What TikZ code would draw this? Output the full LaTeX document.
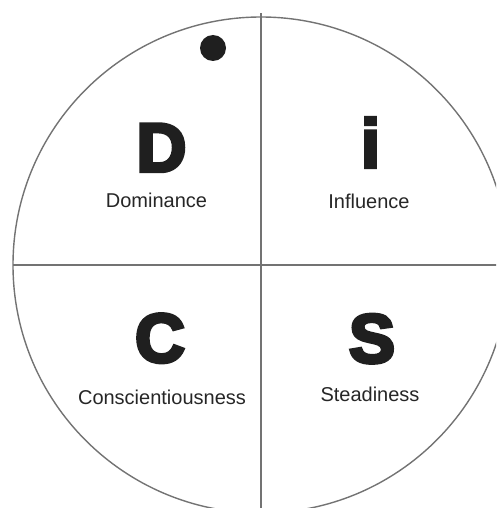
\documentclass[tikz,border=0pt]{standalone}
\usepackage{fontspec}
\setmainfont{Liberation Sans}
\newfontfamily\heavyfont{Liberation Sans Bold}[FakeBold=5]
\begin{document}
\begin{tikzpicture}[x=1pt,y=-1pt,
  rule/.style={draw=black!55, line width=1.4pt},
  bigletter/.style={font=\heavyfont\fontsize{69}{69}\selectfont, text=black!88, anchor=base, inner sep=0pt},
  label/.style={font=\fontsize{20}{20}\selectfont, text=black!85, anchor=base, inner sep=0pt}]
\useasboundingbox (0,0) rectangle (496,508);
\begin{scope}
\clip (0,0) rectangle (496,508);
\coordinate (ctr) at (261,265);
\draw[rule] (ctr) circle[radius=248];
\coordinate (top) at (261,13);
\coordinate (bot) at (261,510);
\coordinate (lft) at (13,265);
\coordinate (rgt) at (498,265);
\draw[rule] (top) -- (bot);
\draw[rule] (lft) -- (rgt);
\end{scope}
\fill[black!88] (213,48) circle[radius=13];
\node[bigletter] (D) at (161.5,171.5) {D};
\node[bigletter] (I) at (370.5,167.5) {i};
\node[bigletter] (C) at (160,362) {C};
\node[bigletter] (S) at (372,362.5) {S};
\node[label] (Dl) at (156.5,207) {Dominance};
\node[label] (Il) at (369,208.5) {Influence};
\node[label] (Cl) at (162,404) {Conscientiousness};
\node[label] (Sl) at (370,401.5) {Steadiness};
\end{tikzpicture}
\end{document}
